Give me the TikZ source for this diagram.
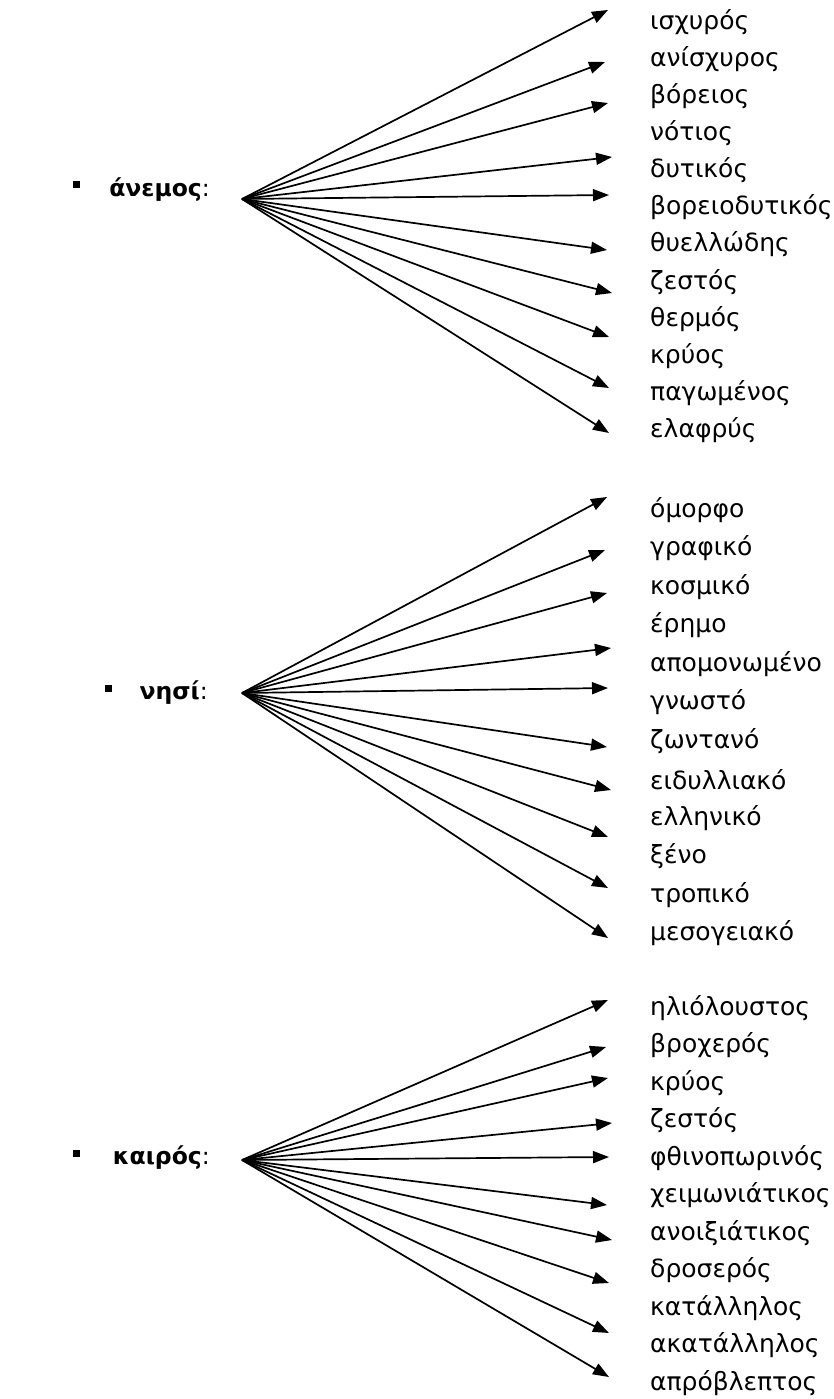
\documentclass[tikz,border=0pt]{standalone}
\usepackage{fontspec}
\setmainfont{DejaVu Sans}
\usetikzlibrary{arrows.meta}
\begin{document}
\begin{tikzpicture}[x=1pt,y=-1pt,
  item/.style={anchor=west,inner sep=0pt,font=\fontsize{25}{27}\selectfont},
  lbl/.style={anchor=east,inner sep=0pt,font=\fontsize{23.5}{25}\selectfont},
  bul/.style={fill=black,minimum size=7pt,inner sep=0pt},
  arr/.style={line width=1.7pt,-{Triangle[length=16pt,width=12pt]}}]
\useasboundingbox (0,0) rectangle (833,1399);
\fill[white] (0,0) rectangle (833,1399);
% group 1
\node[bul] (b1) at (76,185) {};
\node[lbl] (l1) at (210,190) {\textbf{άνεμος}:};
\coordinate (o1) at (242,199);
\foreach \t [count=\i] in {ισχυρός,ανίσχυρος,βόρειος,νότιος,δυτικός,βορειοδυτικός,θυελλώδης,ζεστός,θερμός,κρύος,παγωμένος,ελαφρύς}
  \node[item] (w1-\i) at (650,{22+37.1*(\i-1)}) {\t};
\foreach \x/\y [count=\i] in {608/10,605/62,608/103,612/157,609/195,607/250,612/293,609/337,609/388,609/433}
  {\coordinate (t1-\i) at (\x,\y); \draw[arr] (o1) -- (t1-\i);}
% group 2
\node[bul] (b2) at (108,688) {};
\node[lbl] (l2) at (208,693) {\textbf{νησί}:};
\coordinate (o2) at (242,693);
\foreach \t [count=\i] in {όμορφο,γραφικό,κοσμικό,έρημο,απομονωμένο,γνωστό,ζωντανό,ειδυλλιακό,ελληνικό,ξένο,τροπικό,μεσογειακό}
  \node[item] (w2-\i) at (650,{510+38.5*(\i-1)}) {\t};
\foreach \x/\y [count=\i] in {607/497,605/550,607/593,611/648,608/688,607/747,611/790,608/837,608/888,608/938}
  {\coordinate (t2-\i) at (\x,\y); \draw[arr] (o2) -- (t2-\i);}
% group 3
\node[bul] (b3) at (76,1153) {};
\node[lbl] (l3) at (210,1158) {\textbf{καιρός}:};
\coordinate (o3) at (242,1160);
\foreach \t [count=\i] in {ηλιόλουστος,βροχερός,κρύος,ζεστός,φθινοπωρινός,χειμωνιάτικος,ανοιξιάτικος,δροσερός,κατάλληλος,ακατάλληλος,απρόβλεπτος}
  \node[item] (w3-\i) at (650,{1008+37.5*(\i-1)}) {\t};
\foreach \x/\y [count=\i] in {608/1000,606/1047,608/1078,612/1123,609/1157,607/1205,612/1240,609/1283,609/1333,609/1377}
  {\coordinate (t3-\i) at (\x,\y); \draw[arr] (o3) -- (t3-\i);}
\end{tikzpicture}
\end{document}
